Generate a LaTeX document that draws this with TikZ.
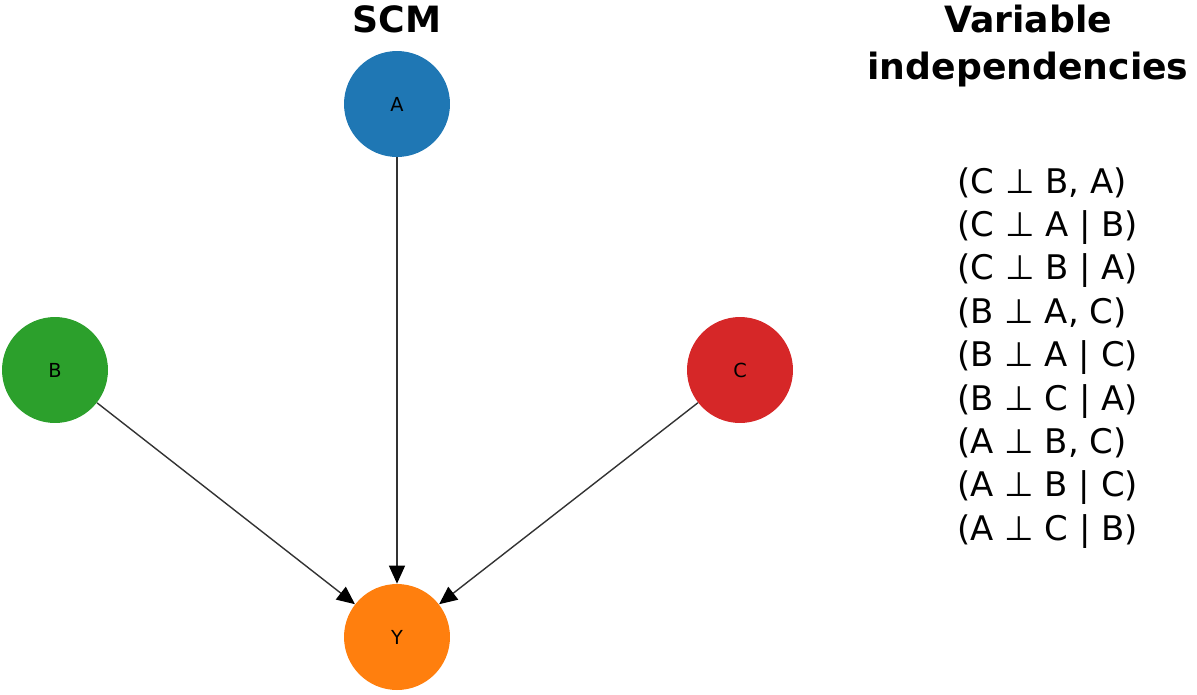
\documentclass[tikz,border=0pt]{standalone}
\usepackage{fontspec}
\setmainfont{DejaVu Sans}
\usetikzlibrary{arrows.meta}
\definecolor{scmblue}{HTML}{1F77B4}
\definecolor{scmgreen}{HTML}{2CA02C}
\definecolor{scmred}{HTML}{D62728}
\definecolor{scmorange}{HTML}{FF7F0E}
\tikzset{
  var/.style={circle, minimum size=2.12cm, inner sep=0pt, font=\fontsize{11}{13}\selectfont},
  cause/.style={-{Triangle[length=0.36cm,width=0.32cm,color=black]}, line width=0.8pt, black!80},
  heading/.style={anchor=base, font=\fontsize{20.6}{24}\selectfont\bfseries},
  indep/.style={anchor=base west, inner sep=0pt, font=\fontsize{19.3}{22}\selectfont},
}
\begin{document}
\begin{tikzpicture}[x=0.02cm, y=-0.02cm]
\useasboundingbox (0,0) rectangle (1197,694);
\node[var, fill=scmblue] (A) at (397,104) {A};
\node[var, fill=scmgreen] (B) at (55,370) {B};
\node[var, fill=scmred] (C) at (740,370) {C};
\node[var, fill=scmorange] (Y) at (397,637) {Y};
\draw[cause] (A) -- (Y);
\draw[cause] (B) -- (Y);
\draw[cause] (C) -- (Y);
\node[heading] (scm) at (397,32) {SCM};
\node[heading] (indtitle) at (1028,32) {Variable};
\node[heading] (indtitle2) at (1028,79) {independencies};
\foreach \txt [count=\i] in {{(C ⊥ B, A)}, {(C ⊥ A | B)}, {(C ⊥ B | A)},
  {(B ⊥ A, C)}, {(B ⊥ A | C)}, {(B ⊥ C | A)},
  {(A ⊥ B, C)}, {(A ⊥ B | C)}, {(A ⊥ C | B)}}
  \node[indep] (ind\i) at (957,{149.6+43.4*\i}) {\txt};
\end{tikzpicture}
\end{document}
